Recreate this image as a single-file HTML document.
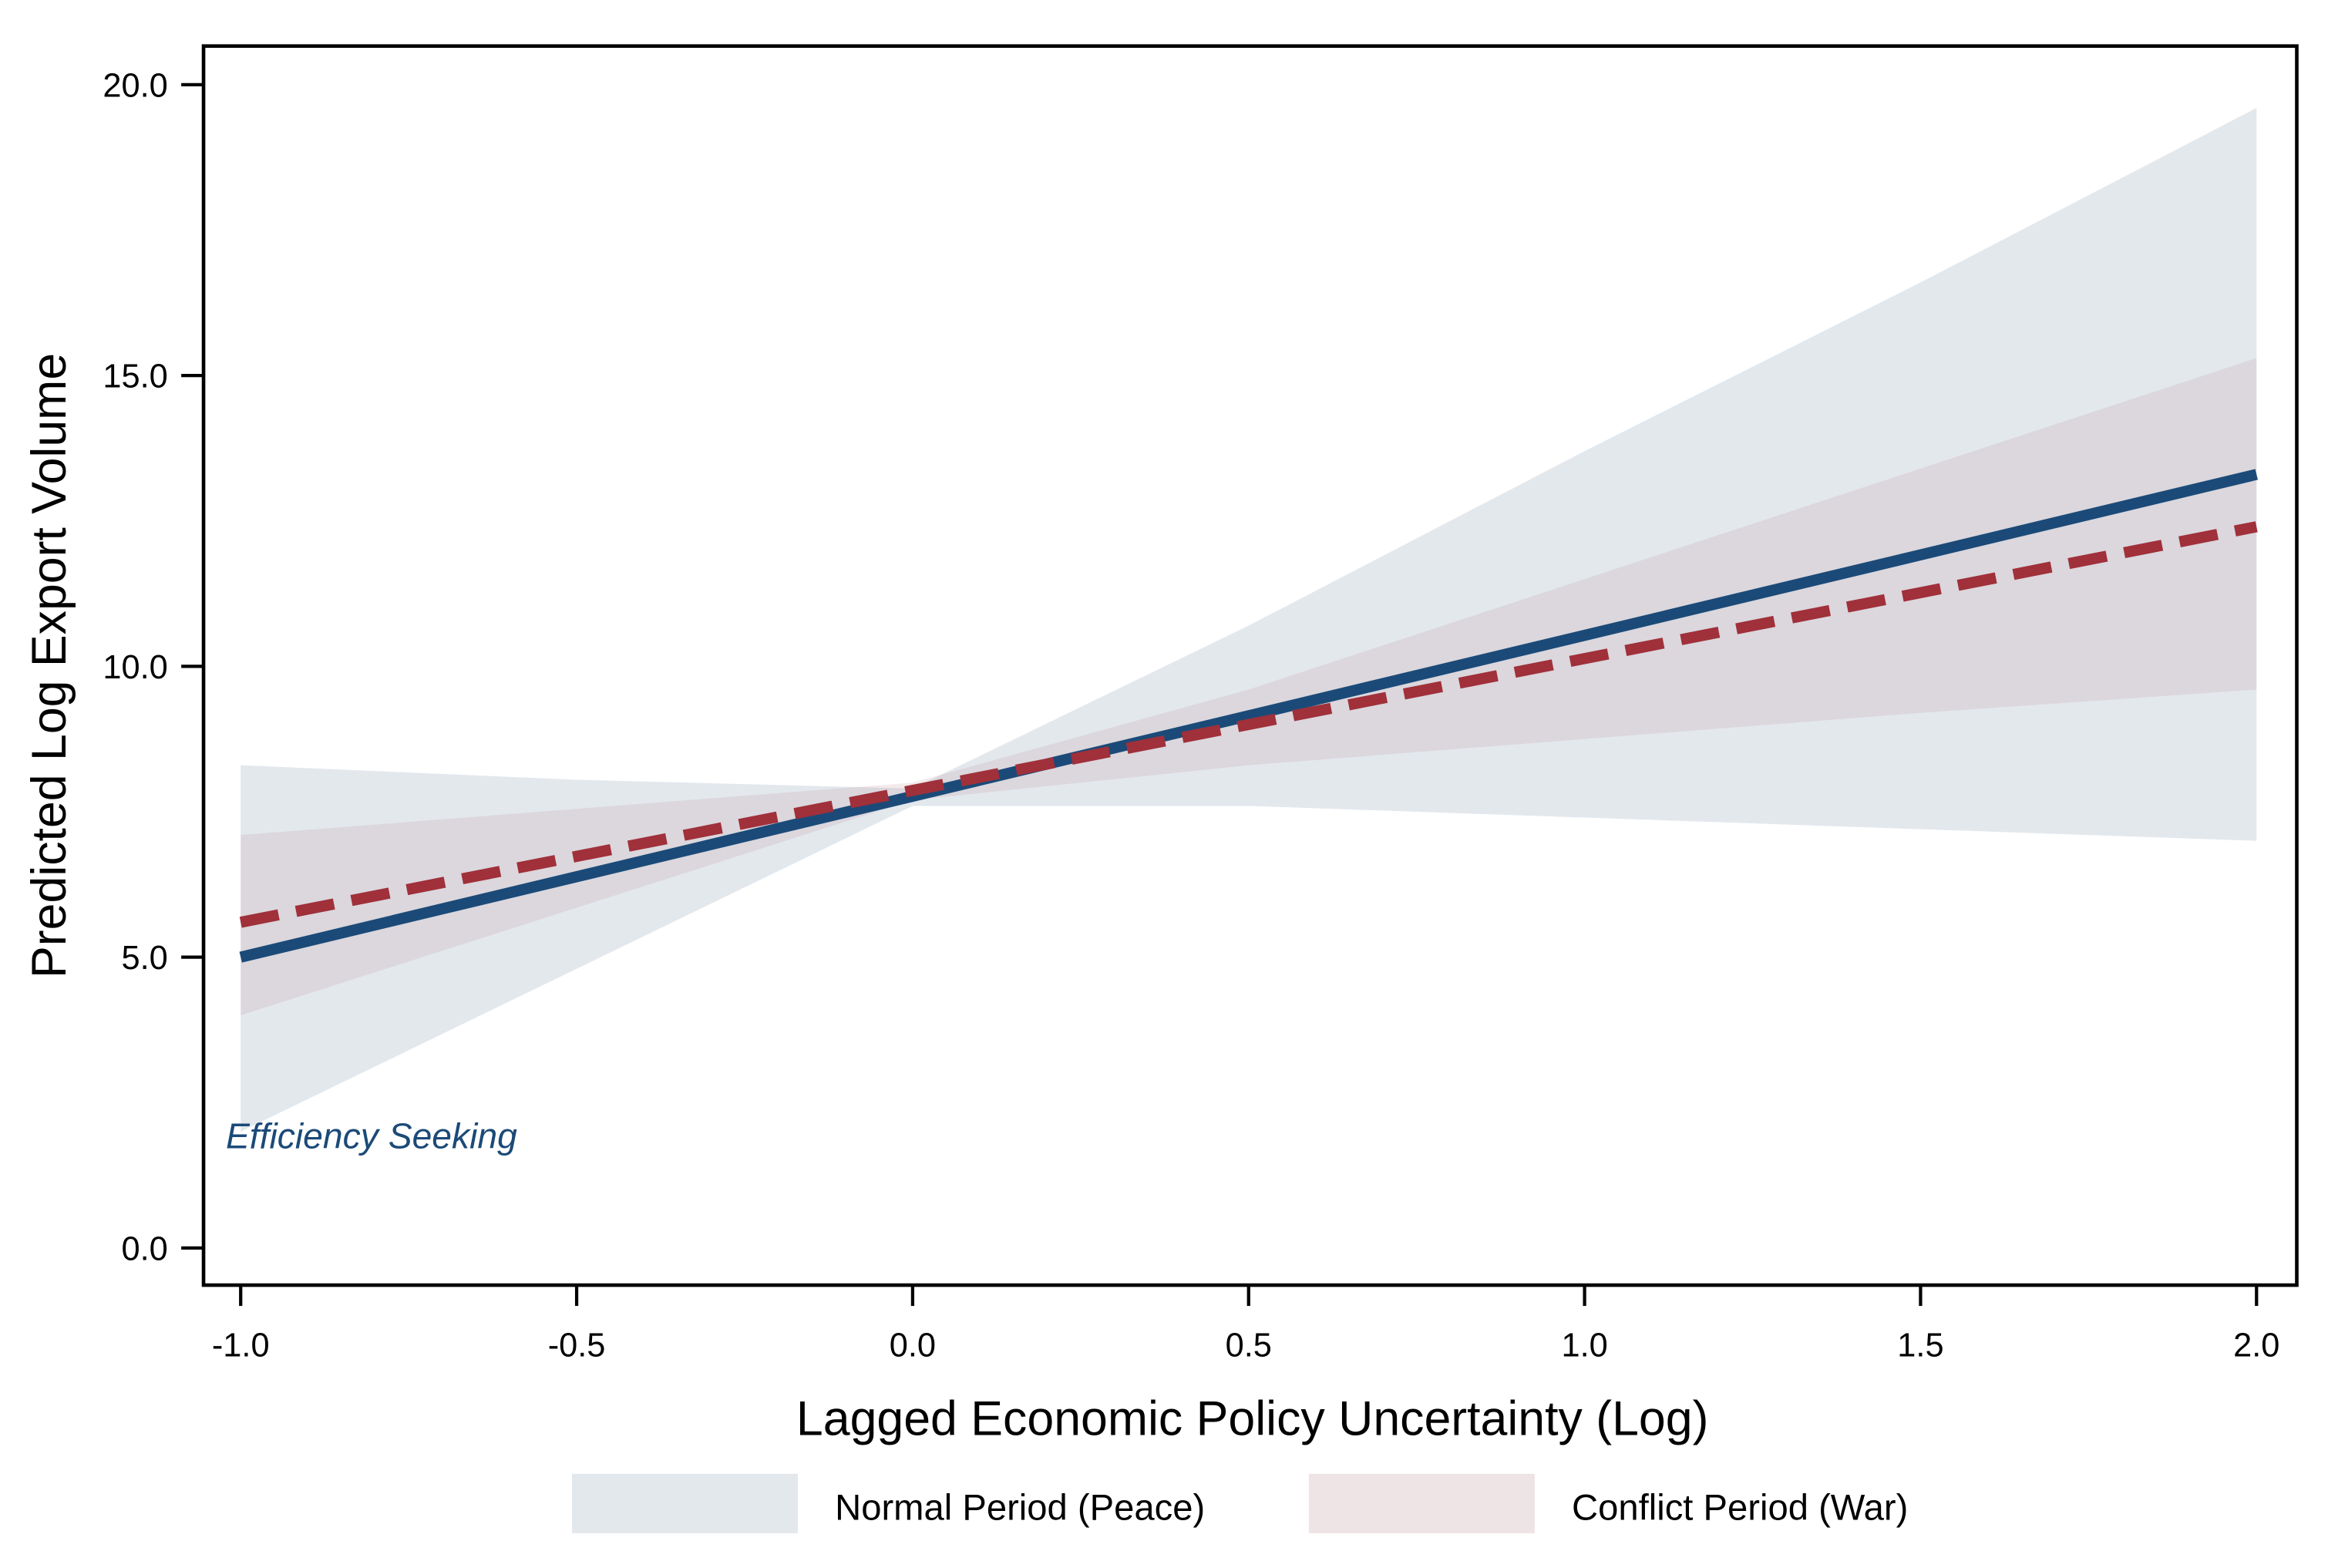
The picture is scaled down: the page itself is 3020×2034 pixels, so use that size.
<!DOCTYPE html>
<html><head><meta charset="utf-8"><style>
html,body{margin:0;padding:0;background:#fff;}
svg{display:block;font-family:"Liberation Sans",Arial,sans-serif;}
</style></head><body>
<svg id="chart" width="3020" height="2034" viewBox="0 0 1567 1055.4" xmlns="http://www.w3.org/2000/svg">
<rect x="0" y="0" width="1567" height="1056" fill="#fff"/>
<g id="bands"></g>
<g id="lines"></g>
<rect x="137" y="31" width="1409" height="834" fill="none" stroke="#000" stroke-width="2.4"/>
<g id="axes"></g>
<text x="152" y="773" font-size="24" font-style="italic" fill="#1b4a78">Efficiency Seeking</text>
<text x="843" y="966" font-size="32.5" text-anchor="middle" fill="#000">Lagged Economic Policy Uncertainty (Log)</text>
<text transform="translate(44,448) rotate(-90)" font-size="32.5" text-anchor="middle" fill="#000">Predicted Log Export Volume</text>
<rect x="385" y="992" width="152" height="40" fill="#e3e8ed"/>
<text x="562" y="1023" font-size="24.5" fill="#000">Normal Period (Peace)</text>
<rect x="881" y="992" width="152" height="40" fill="#eee3e5"/>
<text x="1058" y="1023" font-size="24.5" fill="#000">Conflict Period (War)</text>
</svg>
<script>
const xTicks = [-1.0, -0.5, 0.0, 0.5, 1.0, 1.5, 2.0];
const xTickLabels = ["-1.0", "-0.5", "0.0", "0.5", "1.0", "1.5", "2.0"];
const yTicks = [0, 5, 10, 15, 20];
const yTickLabels = ["0.0", "5.0", "10.0", "15.0", "20.0"];
const bandX = [-1.0, -0.5, 0.0, 0.5, 1.0, 1.5, 2.0];
const peaceUpper = [8.3, 8.05, 7.9, 10.7, 13.7, 16.6, 19.6];
const peaceLower = [2.0, 4.8, 7.6, 7.6, 7.4, 7.2, 7.0];
const warUpper = [7.1, 7.55, 8.0, 9.6, 11.5, 13.4, 15.3];
const warLower = [4.0, 5.85, 7.7, 8.3, 8.75, 9.2, 9.6];
const lineX = [-1.0, 2.0];
const peaceLine = [5.0, 13.3];
const warLine = [5.6, 12.4];

const NS = "http://www.w3.org/2000/svg";
function sx(v){ return 162 + (v + 1) * 452.3; }
function sy(v){ return 840 - v * 39.15; }
function mk(tag, attrs, parent){
  const e = document.createElementNS(NS, tag);
  for (const k in attrs) e.setAttribute(k, attrs[k]);
  parent.appendChild(e); return e;
}
function bandPath(up, lo){
  let d = "";
  bandX.forEach((x,i)=>{ d += (i? "L":"M") + sx(x) + "," + sy(up[i]); });
  for (let i = bandX.length-1; i >= 0; i--) d += "L" + sx(bandX[i]) + "," + sy(lo[i]);
  return d + "Z";
}
const bands = document.getElementById("bands");
const pb = mk("path", {d: bandPath(peaceUpper, peaceLower), fill: "#e3e8ed"}, bands);


const wb = mk("path", {d: bandPath(warUpper, warLower), fill: "#b7808f", "fill-opacity": "0.17"}, bands);



const lines = document.getElementById("lines");
const pl = mk("line", {x1: sx(lineX[0]), y1: sy(peaceLine[0]), x2: sx(lineX[1]), y2: sy(peaceLine[1]), stroke: "#1b4a78", "stroke-width": "7.5"}, lines);


const wl = mk("line", {x1: sx(lineX[0]), y1: sy(warLine[0]), x2: sx(lineX[1]), y2: sy(warLine[1]), stroke: "#a0303a", "stroke-width": "7.5", "stroke-dasharray": "26 12"}, lines);



const axes = document.getElementById("axes");
xTicks.forEach((t,i)=>{
  const tk = mk("line", {x1: sx(t), x2: sx(t), y1: 865, y2: 879, stroke: "#000", "stroke-width": "2.2"}, axes);
  
  
  const lb = mk("text", {x: sx(t), y: 913, "font-size": "22.5", "text-anchor": "middle", fill: "#000"}, axes);
  lb.textContent = xTickLabels[i];
  
  
});
yTicks.forEach((t,i)=>{
  const tk = mk("line", {x1: 122, x2: 137, y1: sy(t), y2: sy(t), stroke: "#000", "stroke-width": "2.2"}, axes);
  
  
  const lb = mk("text", {x: 113, y: sy(t) + 8, "font-size": "22.5", "text-anchor": "end", fill: "#000"}, axes);
  lb.textContent = yTickLabels[i];
  
  
});
</script>
</body></html>
